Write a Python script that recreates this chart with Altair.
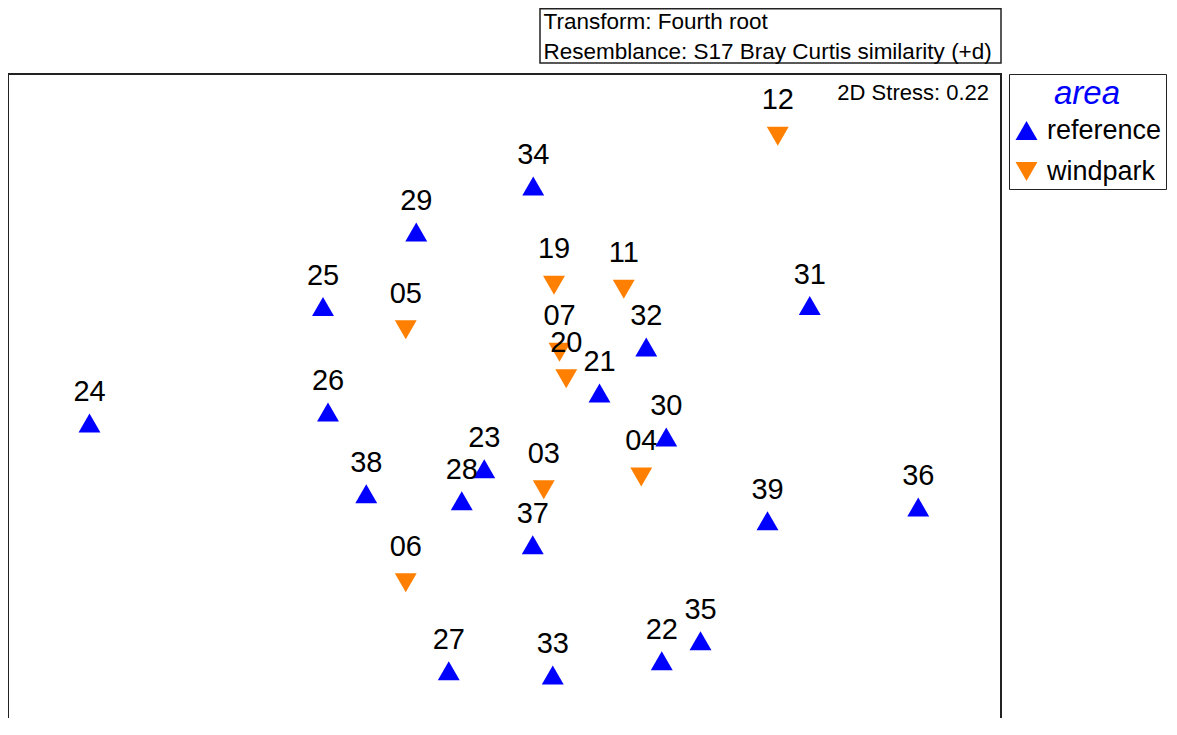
import altair as alt
import pandas as pd

# Sample labels, groups and NMDS coordinates
labels = ["24", "25", "26", "29", "34", "05", "19", "11", "12", "31", "32", "07", "20", "21",
          "30", "04", "23", "03", "28", "38", "37", "39", "36", "06", "35", "22", "27", "33"]
areas = ["reference", "reference", "reference", "reference", "reference", "windpark", "windpark",
         "windpark", "windpark", "reference", "reference", "windpark", "windpark", "reference",
         "reference", "windpark", "reference", "windpark", "reference", "reference", "reference",
         "reference", "reference", "windpark", "reference", "reference", "reference", "reference"]
mds1 = [-1.674, -0.740, -0.720, -0.367, 0.101, -0.409, 0.184, 0.463, 1.079, 1.207, 0.553, 0.206,
        0.233, 0.366, 0.633, 0.533, -0.095, 0.143, -0.185, -0.567, 0.099, 1.038, 1.641, -0.409,
        0.770, 0.615, -0.237, 0.179]
mds2 = [-0.092, 0.374, -0.048, 0.672, 0.856, 0.281, 0.459, 0.443, 1.055, 0.378, 0.212, 0.191,
        0.085, 0.028, -0.148, -0.308, -0.275, -0.359, -0.403, -0.375, -0.579, -0.483, -0.428,
        -0.731, -0.963, -1.043, -1.083, -1.100]

group_names = ["reference", "windpark"]
group_colors = ["#0000ff", "#ff8000"]
group_shapes = ["triangle-up", "triangle-down"]

info_lines = ["Transform: Fourth root", "Resemblance: S17 Bray Curtis similarity (+d)"]
stress_text = "2D Stress: 0.22"
legend_title = "area"

df = pd.DataFrame({"label": labels, "area": areas, "x": mds1, "y": mds2})

FONT = "Liberation Sans"
W, H = 1161, 710

# 250 px per NMDS unit on both axes
xs = alt.Scale(domain=[-2.0, -2.0 + W / 250], nice=False, zero=False)
ys = alt.Scale(domain=[1.568 - H / 250, 1.568], nice=False, zero=False)


def make_legend():
    return alt.Legend(
        orient="none", legendX=1001, legendY=66, title=legend_title,
        titleFontSize=33, titleFontStyle="italic", titleFontWeight="normal",
        titleColor="#0000ff", titleFont=FONT, titleAnchor="middle",
        labelFontSize=27, labelFont=FONT, labelColor="black",
        symbolSize=480, symbolStrokeWidth=0, symbolOpacity=1,
        padding=4, rowPadding=13, labelOffset=7, titlePadding=6,
        strokeColor="#222222", fillColor="white")


base = alt.Chart(df)

points = base.mark_point(filled=True, size=480, opacity=1, strokeWidth=0).encode(
    x=alt.X("x:Q", scale=xs, axis=None),
    y=alt.Y("y:Q", scale=ys, axis=None),
    color=alt.Color("area:N", scale=alt.Scale(domain=group_names, range=group_colors),
                    legend=make_legend()),
    shape=alt.Shape("area:N", scale=alt.Scale(domain=group_names, range=group_shapes),
                    legend=make_legend()),
)

lab_up = base.transform_filter(alt.datum.area == "reference").mark_text(
    font=FONT, fontSize=29, color="black", align="center", baseline="middle", dy=-31
).encode(x=alt.X("x:Q", scale=xs, axis=None), y=alt.Y("y:Q", scale=ys, axis=None), text="label:N")

lab_down = base.transform_filter(alt.datum.area == "windpark").mark_text(
    font=FONT, fontSize=29, color="black", align="center", baseline="middle", dy=-36
).encode(x=alt.X("x:Q", scale=xs, axis=None), y=alt.Y("y:Q", scale=ys, axis=None), text="label:N")

one = alt.Data(values=[{"k": 1}])

frame = alt.Chart(one).mark_rect(fill="white", fillOpacity=0, stroke="#222222", strokeWidth=2).encode(
    x=alt.value(0), x2=alt.value(993), y=alt.value(66), y2=alt.value(820))

info_box = alt.Chart(one).mark_rect(fill="white", stroke="#222222", strokeWidth=1.5).encode(
    x=alt.value(532), x2=alt.value(993), y=alt.value(0.75), y2=alt.value(55))

info1 = alt.Chart(alt.Data(values=[{"t": info_lines[0]}])).mark_text(
    font=FONT, fontSize=22.5, align="left", baseline="alphabetic", color="black"
).encode(x=alt.value(535.5), y=alt.value(20.5), text="t:N")
info2 = alt.Chart(alt.Data(values=[{"t": info_lines[1]}])).mark_text(
    font=FONT, fontSize=22.5, align="left", baseline="alphabetic", color="black"
).encode(x=alt.value(535.5), y=alt.value(50.5), text="t:N")

stress = alt.Chart(alt.Data(values=[{"t": stress_text}])).mark_text(
    font=FONT, fontSize=22, align="right", baseline="alphabetic", color="black"
).encode(x=alt.value(981), y=alt.value(92), text="t:N")

chart = alt.layer(frame, info_box, info1, info2, stress, points, lab_up, lab_down).properties(
    width=W, height=H, padding=0, autosize=alt.AutoSizeParams(type="none"),
    background="white"
).configure_view(strokeWidth=0, stroke=None)

chart.save("out.html", embed_options={"renderer": "svg", "actions": False})
